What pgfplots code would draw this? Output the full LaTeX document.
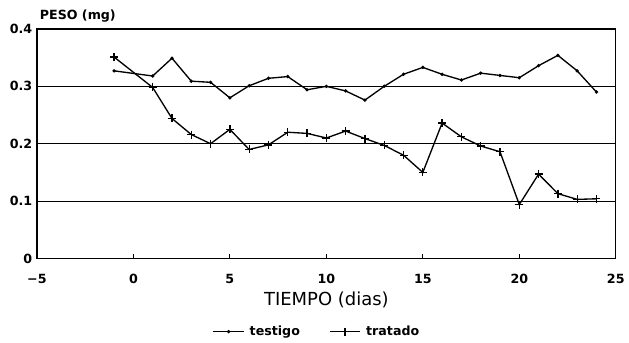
\documentclass[border=0pt]{standalone}
\usepackage{fontspec}
\setmainfont{DejaVu Sans}
\usepackage{pgfplots}
\pgfplotsset{compat=1.18}
\begin{document}
\begin{tikzpicture}
\begin{axis}[
  at={(0,0)}, anchor=south west,
  scale only axis, width=435pt, height=172.5pt,
  xmin=-5, xmax=25, ymin=0, ymax=0.4,
  xtick={-5,0,5,10,15,20,25},
  xticklabels={−5,0,5,10,15,20,25},
  ytick={0,0.1,0.2,0.3,0.4},
  yticklabels={0,0.1,0.2,0.3,0.4},
  ymajorgrids, grid style={black, line width=0.7pt},
  xtick pos=bottom, ytick pos=left, tick align=inside,
  y tick style={draw=none},
  x tick style={black, line width=0.7pt},
  major tick length=3pt,
  axis line style={line width=0.9pt},
  tick label style={font=\bfseries\fontsize{9.5}{11}\selectfont},
  xticklabel style={yshift=-8pt},
  /pgf/number format/assume math mode=true,
  xlabel={TIEMPO (dias)},
  xlabel style={at={(0.5,0)}, anchor=center, yshift=-31pt, font=\fontsize{13.5}{16}\selectfont},
  ylabel={PESO (mg)},
  every axis y label/.style={at={(rel axis cs:0,1)}, anchor=base west, inner sep=0pt, yshift=7pt, xshift=2pt, font=\bfseries\fontsize{9.5}{11}\selectfont},
  legend style={at={(0.5,0)}, anchor=center, yshift=-55pt, xshift=-6.75pt, draw=none, fill=none,
    legend columns=2, font=\bfseries\fontsize{9.5}{11}\selectfont,
    /tikz/every odd column/.append style={column sep=2pt},
    /tikz/every even column/.append style={column sep=20pt}},
  legend image code/.code={\draw[#1] (0cm,0cm) -- (0.8cm,0cm); \draw[#1, only marks] plot coordinates {(0.4cm,0cm)};},
]
\addplot[black, line width=1pt, mark=*, mark size=0.7pt] coordinates {
(-1,0.327) (1,0.318) (2,0.349) (3,0.309) (4,0.307) (5,0.280) (6,0.301)
(7,0.314) (8,0.317) (9,0.294) (10,0.300) (11,0.292) (12,0.276) (13,0.300)
(14,0.321) (15,0.333) (16,0.321) (17,0.311) (18,0.323) (19,0.319) (20,0.315)
(21,0.336) (22,0.354) (23,0.327) (24,0.290)
};
\addlegendentry{testigo}
\addplot[black, line width=1pt, mark=+, mark size=3pt] coordinates {
(-1,0.351) (1,0.298) (2,0.244) (3,0.216) (4,0.200) (5,0.225) (6,0.190)
(7,0.198) (8,0.220) (9,0.218) (10,0.210) (11,0.222) (12,0.209) (13,0.197)
(14,0.180) (15,0.150) (16,0.236) (17,0.212) (18,0.196) (19,0.186) (20,0.094)
(21,0.147) (22,0.113) (23,0.103) (24,0.104)
};
\addlegendentry{tratado}
\end{axis}
\path[use as bounding box] (-27.75pt,-63pt) rectangle (444pt,194.25pt);
\end{tikzpicture}
\end{document}
